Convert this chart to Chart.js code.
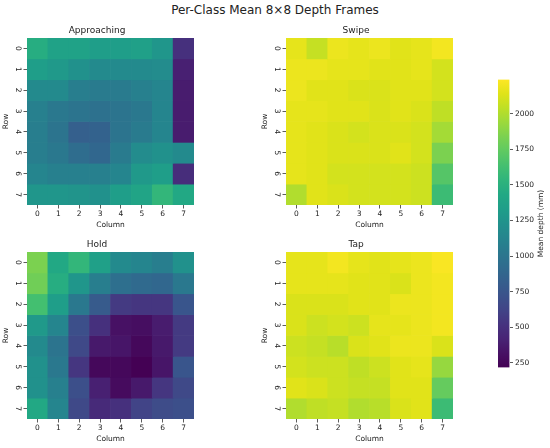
<!DOCTYPE html>
<html>
<head>
<meta charset="utf-8">
<script src="https://cdn.jsdelivr.net/npm/chart.js@4.4.0/dist/chart.umd.min.js"></script>
<style>
  html, body { margin: 0; padding: 0; background: #fff; }
  #wrap { position: relative; width: 550px; height: 448px; overflow: hidden; background: #fff; }
  canvas { position: absolute; }
  #suptitle { position: absolute; left: 0; top: 3px; width: 550px; text-align: center;
    font-family: "DejaVu Sans", sans-serif; font-size: 12px; color: #222; }
</style>
</head>
<body>
<div id="wrap">
  <div id="suptitle">Per-Class Mean 8×8 Depth Frames</div>
  <canvas id="c0"></canvas>
  <canvas id="c1"></canvas>
  <canvas id="c2"></canvas>
  <canvas id="c3"></canvas>
  <canvas id="cb"></canvas>
</div>
<script>
// ---------- data ----------
const COLUMNS = ['0','1','2','3','4','5','6','7'];
const ROW_LABELS = ['0','1','2','3','4','5','6','7'];
const CLASSES = ['Approaching', 'Swipe', 'Hold', 'Tap'];
const VMIN = 218;
const VMAX = 2240;
const CBAR_TICKS = [250, 500, 750, 1000, 1250, 1500, 1750, 2000];

const approaching = [
  [1470, 1370, 1370, 1330, 1330, 1350, 1270, 500],
  [1330, 1290, 1230, 1170, 1170, 1170, 1190, 400],
  [1170, 1170, 1070, 1050, 1050, 1090, 1130, 380],
  [1090, 1030,  990,  970,  990, 1030, 1130, 380],
  [1070,  990,  830,  850,  990, 1050, 1130, 380],
  [1070, 1030,  930,  890, 1050, 1190, 1230, 1170],
  [1130, 1090, 1090, 1090, 1130, 1290, 1330, 480],
  [1270, 1270, 1250, 1230, 1330, 1390, 1550, 1430]
];
const swipe = [
  [2164, 2063, 2184, 2164, 2184, 2144, 2164, 2205],
  [2184, 2184, 2164, 2164, 2144, 2144, 2164, 2103],
  [2184, 2144, 2144, 2124, 2124, 2144, 2144, 2103],
  [2164, 2164, 2144, 2144, 2124, 2144, 2124, 2043],
  [2164, 2144, 2124, 2103, 2124, 2124, 2103, 1962],
  [2164, 2144, 2124, 2124, 2124, 2144, 2103, 1840],
  [2164, 2144, 2103, 2103, 2103, 2103, 2083, 1698],
  [2002, 2144, 2124, 2103, 2103, 2103, 2083, 1597]
];
const hold = [
  [1840, 1430, 1550, 1350, 1170, 1130, 1070, 1230],
  [1800, 1470, 1270, 1070,  950,  910,  890, 1030],
  [1630, 1330, 1030,  790,  560,  540,  540,  750],
  [1290, 1130,  700,  500,  320,  300,  380,  560],
  [1170,  990,  660,  360,  340,  260,  360,  560],
  [1230, 1030,  540,  260,  260,  220,  340,  750],
  [1230, 1090,  700,  400,  280,  360,  540,  660],
  [1430, 1130,  660,  460,  500,  620,  680,  700]
];
const tap = [
  [2164, 2164, 2205, 2164, 2144, 2164, 2184, 2225],
  [2164, 2164, 2164, 2144, 2144, 2124, 2184, 2205],
  [2124, 2124, 2124, 2144, 2144, 2184, 2184, 2205],
  [2124, 2083, 2103, 2083, 2164, 2164, 2184, 2205],
  [2083, 2063, 2022, 2124, 2144, 2184, 2184, 2124],
  [2103, 2083, 2083, 2043, 2083, 2144, 2164, 1921],
  [2144, 2124, 2083, 2063, 2063, 2144, 2144, 1759],
  [2002, 2043, 2063, 2002, 2022, 2124, 2144, 1597]
];
const MATRICES = [approaching, swipe, hold, tap];

// ---------- viridis colormap ----------
const VIRIDIS = ['#440154','#471164','#482475','#46337f','#414487','#3b528b','#355f8d','#2f6c8e',
  '#2a788e','#25858e','#21918c','#1f9e89','#22a884','#2fb47c','#44bf70','#5ec962',
  '#7ad151','#9bd93c','#bddf26','#dfe318','#fde725'];
function hexToRgb(h){ return [parseInt(h.slice(1,3),16), parseInt(h.slice(3,5),16), parseInt(h.slice(5,7),16)]; }
const VIR_RGB = VIRIDIS.map(hexToRgb);
function viridis(v){
  let t = (v - VMIN) / (VMAX - VMIN);
  t = Math.max(0, Math.min(1, t));
  const p = t * (VIR_RGB.length - 1);
  const i = Math.min(Math.floor(p), VIR_RGB.length - 2);
  const f = p - i;
  const a = VIR_RGB[i], b = VIR_RGB[i+1];
  const c = a.map((x, k) => Math.round(x + (b[k] - x) * f));
  return 'rgb(' + c.join(',') + ')';
}

// ---------- layout ----------
const FONT = '"DejaVu Sans", sans-serif';
const TXT = '#222';
const YW = 27, TH = 18, XH = 26, RP = 4;
const AREAS = [
  {l: 27,  t: 38,  w: 167, h: 167},
  {l: 286, t: 38,  w: 167, h: 167},
  {l: 27,  t: 252, w: 167, h: 167},
  {l: 286, t: 252, w: 167, h: 167}
];
Chart.defaults.font.family = FONT;
Chart.defaults.color = TXT;

function makeHeatmap(idx){
  const a = AREAS[idx];
  const cv = document.getElementById('c' + idx);
  const W = YW + a.w + RP, H = TH + a.h + XH;
  cv.width = W; cv.height = H;
  cv.style.left = (a.l - YW) + 'px';
  cv.style.top = (a.t - TH) + 'px';
  cv.style.width = W + 'px'; cv.style.height = H + 'px';
  const M = MATRICES[idx];
  const datasets = ROW_LABELS.map((r, ri) => ({
    label: 'Row ' + r,
    data: COLUMNS.map(() => [ri, ri + 1]),
    backgroundColor: M[ri].map(viridis),
    borderWidth: 0,
    grouped: false,
    barPercentage: 1,
    categoryPercentage: 1
  }));
  new Chart(cv, {
    type: 'bar',
    data: { labels: COLUMNS, datasets },
    options: {
      responsive: false,
      animation: false,
      devicePixelRatio: 1,
      layout: { padding: { left: 0, right: RP, top: 0, bottom: 0 } },
      plugins: {
        legend: { display: false },
        tooltip: { enabled: false },
        title: { display: true, text: CLASSES[idx], color: TXT,
          font: { size: 9, weight: 'normal', family: FONT, lineHeight: 1.2 },
          padding: { top: 5.2, bottom: 2 } }
      },
      scales: {
        x: {
          type: 'category',
          offset: true,
          grid: { display: true, drawOnChartArea: false, drawTicks: true, tickLength: 3.5, color: '#333', offset: false, tickWidth: 0.8 },
          border: { display: false },
          ticks: { font: { size: 7.5, family: FONT }, color: TXT, padding: 1, maxRotation: 0, minRotation: 0 },
          title: { display: true, text: 'Column', color: TXT, font: { size: 7.5, family: FONT, lineHeight: 1.2 }, padding: { top: 0, bottom: 1.5 } },
          afterFit: (s) => { s.height = XH; }
        },
        y: {
          type: 'linear',
          min: 0, max: 8,
          reverse: true,
          afterBuildTicks: (s) => { s.ticks = ROW_LABELS.map((_, i) => ({ value: i + 0.5 })); },
          grid: { display: true, drawOnChartArea: false, drawTicks: true, tickLength: 3.5, color: '#333', tickWidth: 0.8 },
          border: { display: false },
          ticks: { font: { size: 7.5, family: FONT }, color: TXT, padding: 3, crossAlign: 'center',
            minRotation: -90, maxRotation: -90,
            callback: (v, i) => ROW_LABELS[i] },
          title: { display: true, text: 'Row', color: TXT, font: { size: 7.5, family: FONT, lineHeight: 1.2 }, padding: { top: 2, bottom: 0 } },
          afterFit: (s) => { s.width = YW; }
        }
      }
    }
  });
}
[0, 1, 2, 3].forEach(makeHeatmap);

// ---------- colorbar ----------
(function(){
  const cv = document.getElementById('cb');
  const CB = {l: 498, t: 79, w: 11.5, h: 289};
  const PADT = 6, AXW = 40.5;
  const W = 52, H = CB.h + PADT * 2;
  cv.width = W; cv.height = H;
  cv.style.left = CB.l + 'px'; cv.style.top = (CB.t - PADT) + 'px';
  cv.style.width = W + 'px'; cv.style.height = H + 'px';
  const labelPlugin = {
    id: 'cbLabel',
    afterDraw(chart){
      const ctx = chart.ctx;
      const area = chart.chartArea;
      ctx.save();
      ctx.fillStyle = TXT;
      ctx.font = '7.5px ' + FONT;
      ctx.textAlign = 'center';
      ctx.textBaseline = 'middle';
      ctx.translate(43.5, (area.top + area.bottom) / 2);
      ctx.rotate(-Math.PI / 2);
      ctx.fillText('Mean depth (mm)', 0, 0);
      ctx.restore();
    }
  };
  new Chart(cv, {
    type: 'bar',
    data: {
      labels: ['cbar'],
      datasets: [{
        data: [[VMIN, VMAX]],
        borderWidth: 0,
        barPercentage: 1,
        categoryPercentage: 1,
        backgroundColor: (ctx) => {
          const chart = ctx.chart;
          const area = chart.chartArea;
          if (!area) return VIRIDIS[10];
          const g = chart.ctx.createLinearGradient(0, area.bottom, 0, area.top);
          VIRIDIS.forEach((c, i) => g.addColorStop(i / (VIRIDIS.length - 1), c));
          return g;
        }
      }]
    },
    options: {
      responsive: false,
      animation: false,
      devicePixelRatio: 1,
      layout: { padding: { top: PADT, bottom: PADT, left: 0, right: 0 } },
      plugins: { legend: { display: false }, tooltip: { enabled: false } },
      scales: {
        x: { display: false, offset: true },
        y: {
          position: 'right',
          min: VMIN, max: VMAX,
          afterBuildTicks: (s) => { s.ticks = CBAR_TICKS.map(v => ({ value: v })); },
          grid: { display: true, drawOnChartArea: false, drawTicks: true, tickLength: 3.5, color: '#333', tickWidth: 0.8 },
          border: { display: false },
          ticks: { font: { size: 7.5, family: FONT }, color: TXT, padding: 2,
            callback: (v) => String(v) },
          afterFit: (s) => { s.width = AXW; }
        }
      }
    },
    plugins: [labelPlugin]
  });
})();
</script>
</body>
</html>
